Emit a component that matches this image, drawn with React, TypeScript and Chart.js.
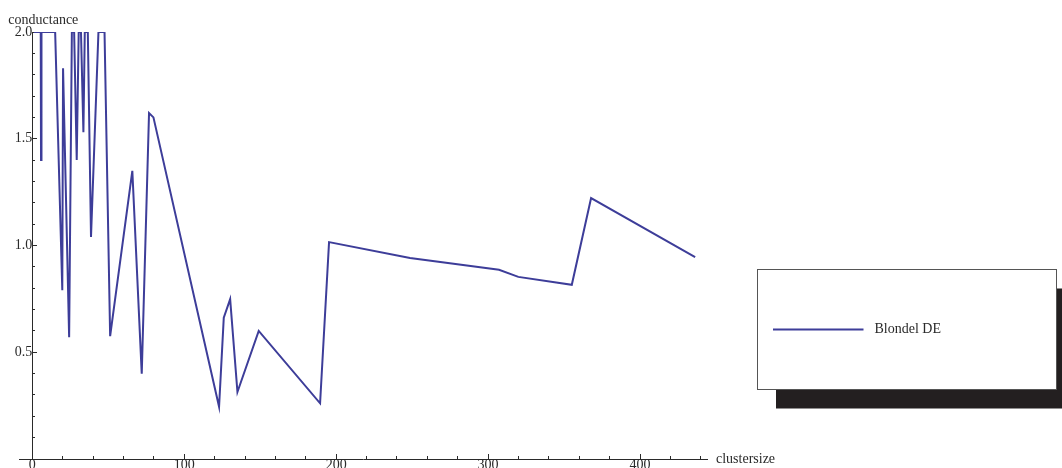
import React, { useEffect, useRef } from 'react';
import { Chart, registerables } from 'chart.js';

Chart.register(...registerables);

// ---- data ----
const clusterSize = [
  1, 3, 5.5, 5.7, 6, 9, 12, 15, 19.7, 20.2, 24.2, 26, 27.5, 29.2, 30.5, 32, 33.6, 34.5,
  36.5, 38.6, 43.5, 47.5, 51.2, 65.8, 72.0, 76.8, 79.7, 122.9, 126, 130.2, 135, 149,
  189.4, 195.3, 248.6, 307.2, 319.9, 355.1, 367.8, 436.3,
];
const conductance = [
  2.0, 2.0, 2.0, 1.4, 2.0, 2.0, 2.0, 2.0, 0.79, 1.83, 0.57, 2.0, 2.0, 1.4, 2.0, 2.0, 1.53, 2.0,
  2.0, 1.04, 2.0, 2.0, 0.575, 1.35, 0.4, 1.62, 1.6, 0.245, 0.662, 0.749, 0.314, 0.6,
  0.261, 1.016, 0.941, 0.886, 0.853, 0.816, 1.222, 0.946,
];
const seriesLabel = 'Blondel DE';
const xAxisLabel = 'clustersize';
const yAxisLabel = 'conductance';

const xMajorTicks = [0, 100, 200, 300, 400];
const xMinorTicks = [20, 40, 60, 80, 120, 140, 160, 180, 220, 240, 260, 280, 320, 340, 360, 380, 420, 440];
const yMajorTicks = [0.5, 1.0, 1.5, 2.0];
const yMinorTicks = [0.1, 0.2, 0.3, 0.4, 0.6, 0.7, 0.8, 0.9, 1.1, 1.2, 1.3, 1.4, 1.6, 1.7, 1.8, 1.9];

const X_MIN = -8.8;
const X_MAX = 444.1;
const Y_MIN = 0;
const Y_MAX = 2.0;

const FONT = '"Liberation Serif", "Times New Roman", serif';
const LINE_COLOR = '#3d3d99';
const AXIS_COLOR = '#2a2a2a';
const TEXT_COLOR = '#2a2a2a';

const decorPlugin = {
  id: 'mmaDecor',
  afterDraw(chart: any) {
    const ctx = chart.ctx;
    const area = chart.chartArea;
    const x0 = chart.scales.x.getPixelForValue(0);
    ctx.save();
    ctx.font = `14px ${FONT}`;
    ctx.fillStyle = TEXT_COLOR;
    ctx.textAlign = 'left';
    ctx.textBaseline = 'alphabetic';
    ctx.fillText(yAxisLabel, x0 - 24, area.top - 8);
    ctx.fillText(xAxisLabel, area.right + 9, area.bottom + 3.5);

    // legend box with drop shadow
    const bx = area.right + 50.5;
    const by = 269.5;
    const bw = 299;
    const bh = 120;
    ctx.fillStyle = '#231f20';
    ctx.fillRect(bx + 18.5, by + 19, bw + 20, bh);
    ctx.fillStyle = '#ffffff';
    ctx.fillRect(bx, by, bw, bh);
    ctx.strokeStyle = '#555555';
    ctx.lineWidth = 1;
    ctx.strokeRect(bx, by, bw, bh);

    const ds = chart.data.datasets[0];
    const ly = by + 60;
    ctx.strokeStyle = ds.borderColor;
    ctx.lineWidth = 2;
    ctx.beginPath();
    ctx.moveTo(bx + 15.5, ly);
    ctx.lineTo(bx + 106, ly);
    ctx.stroke();
    ctx.fillStyle = TEXT_COLOR;
    ctx.textBaseline = 'middle';
    ctx.fillText(ds.label, bx + 117, ly);
    ctx.restore();
  },
};

const setTicks = (list: number[]) => (scale: any) => {
  scale.ticks = list.map((v) => ({ value: v }));
};

export default function App() {
  const canvasRef = useRef<HTMLCanvasElement | null>(null);

  useEffect(() => {
    const canvas = canvasRef.current;
    if (!canvas) return;
    const points = clusterSize.map((x, i) => ({ x, y: conductance[i] }));
    const tickFont = { family: FONT, size: 14 };
    const chart = new Chart(canvas, {
      type: 'line',
      data: {
        datasets: [
          {
            label: seriesLabel,
            data: points,
            borderColor: LINE_COLOR,
            backgroundColor: LINE_COLOR,
            borderWidth: 2,
            pointRadius: 0,
            tension: 0,
            fill: false,
          },
        ],
      },
      options: {
        responsive: false,
        animation: false,
        events: [],
        layout: { padding: { left: 19, top: 32, right: 355, bottom: 0 } },
        plugins: { legend: { display: false }, tooltip: { enabled: false }, title: { display: false } },
        scales: {
          x: {
            type: 'linear',
            position: 'bottom',
            weight: 2,
            min: X_MIN,
            max: X_MAX,
            afterBuildTicks: setTicks(xMajorTicks),
            afterFit: (s: any) => { s.height = 9; },
            grid: { display: true, drawOnChartArea: false, drawTicks: true, tickLength: -5, tickColor: AXIS_COLOR, tickWidth: 1 },
            border: { display: true, color: AXIS_COLOR, width: 1 },
            ticks: { autoSkip: false, maxRotation: 0, padding: 3, color: TEXT_COLOR, font: tickFont, callback: (v: any) => String(v) },
          },
          x2: {
            type: 'linear',
            axis: 'x',
            position: 'bottom',
            weight: 0,
            min: X_MIN,
            max: X_MAX,
            afterBuildTicks: setTicks(xMinorTicks),
            afterFit: (s: any) => { s.height = 0; },
            grid: { display: true, drawOnChartArea: false, drawTicks: true, tickLength: -3, tickColor: AXIS_COLOR, tickWidth: 1 },
            border: { display: false },
            ticks: { display: false, autoSkip: false },
          },
          y: {
            type: 'linear',
            position: { x: 0 },
            min: Y_MIN,
            max: Y_MAX,
            afterBuildTicks: setTicks(yMajorTicks),
            grid: { display: true, drawOnChartArea: false, drawTicks: true, tickLength: -5, tickColor: AXIS_COLOR, tickWidth: 1 },
            border: { display: true, color: AXIS_COLOR, width: 1 },
            ticks: { autoSkip: false, padding: 0, color: TEXT_COLOR, font: tickFont, callback: (v: any) => Number(v).toFixed(1) },
          },
          y2: {
            type: 'linear',
            axis: 'y',
            position: { x: 0 },
            min: Y_MIN,
            max: Y_MAX,
            afterBuildTicks: setTicks(yMinorTicks),
            grid: { display: true, drawOnChartArea: false, drawTicks: true, tickLength: -3, tickColor: AXIS_COLOR, tickWidth: 1 },
            border: { display: false },
            ticks: { display: false, autoSkip: false },
          },
        },
      } as any,
      plugins: [decorPlugin],
    });
    return () => chart.destroy();
  }, []);

  return (
    <div style={{ position: 'fixed', left: 0, top: 0, width: 1062, height: 468, background: '#fff' }}>
      <canvas ref={canvasRef} width={1062} height={468} style={{ display: 'block', width: 1062, height: 468 }} />
    </div>
  );
}
